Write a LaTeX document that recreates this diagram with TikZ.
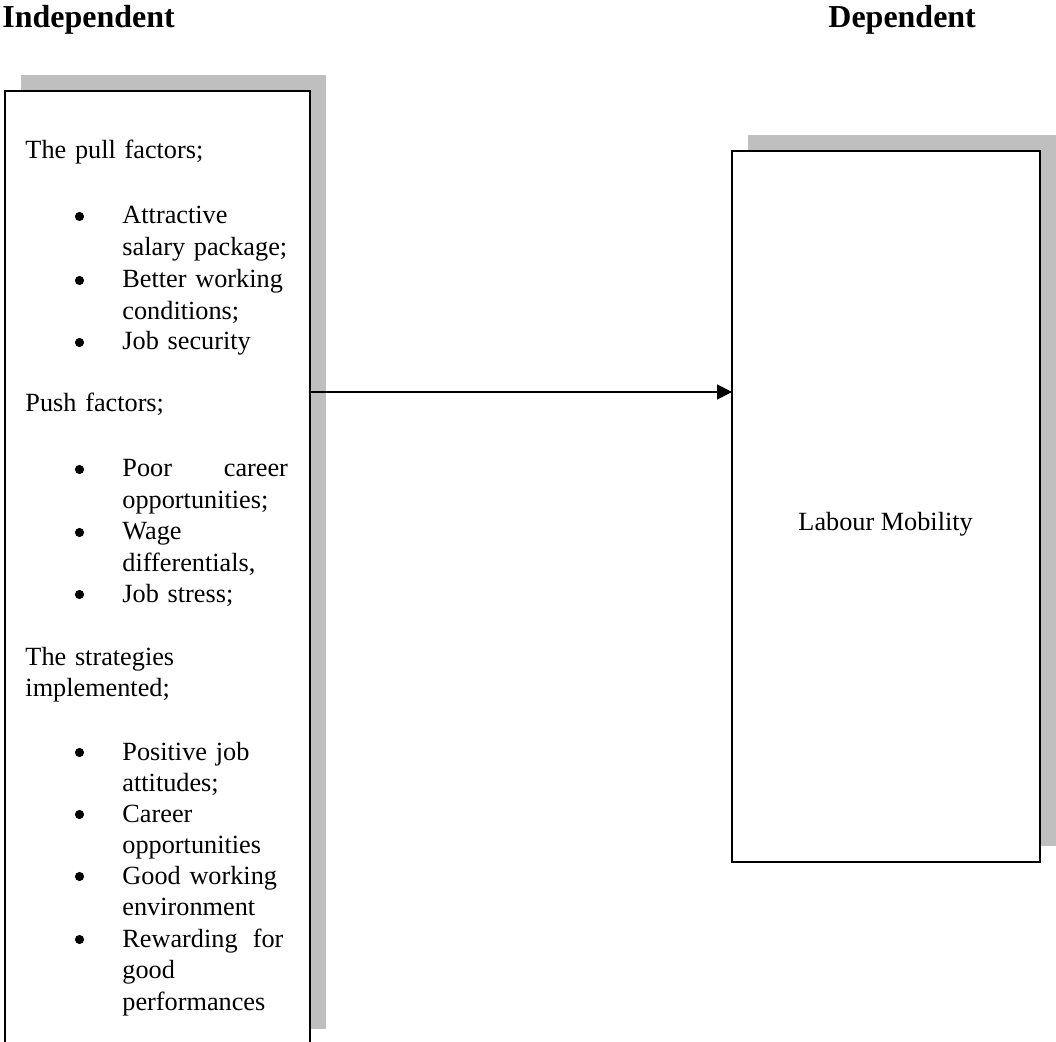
\documentclass[tikz,border=0pt]{standalone}
\usepackage{fontspec}
\setmainfont{Liberation Serif}
\usetikzlibrary{arrows.meta}

\newcommand{\docfont}{\fontsize{11.5}{13.8}\selectfont}

\tikzset{
    frame/.style={draw, line width=0.8pt, fill=white},
    shadow/.style={fill=black!25},
    heading/.style={anchor=base west, font=\fontsize{14}{16}\selectfont\bfseries},
    plain/.style={anchor=base west, text width=120pt, align=left},
    entry/.style={anchor=base west, text width=80pt, align=left},
    dot/.style={circle, fill, minimum size=4pt},
}

\begin{document}
\begin{tikzpicture}[x=0.438pt, y=-0.438pt,
    every node/.style={font=\docfont, inner sep=0pt}]
    % Page area
    \useasboundingbox (0,0) rectangle (1056,1042);
    \clip (0,0) rectangle (1056,1042);

    % Titles
    \node[heading] (indeptitle) at (2,28) {Independent};
    \node[heading] (deptitle) at (828,28) {Dependent};

    % Left box and its shadow
    \fill[shadow] (21,75) rectangle (326,1029);
    \draw[frame] (5,91) rectangle (310,1070);

    % Right box and its shadow
    \fill[shadow] (748,135) rectangle (1080,846);
    \draw[frame] (732,151) rectangle (1040,862);

    % Pull factors
    \node[plain] (pull) at (25,159) {The pull factors;};
    \node[entry] (salary) at (122,224) {Attractive\\salary package;};
    \node[entry] (conditions) at (122,288) {Better working\\conditions;};
    \node[entry] (security) at (122,350) {Job security};

    % Push factors
    \node[plain] (push) at (25,412) {Push factors;};
    \node[entry] (career) at (122,477) {\makebox[72.5pt][l]{Poor\hfill career}\\opportunities;};
    \node[entry] (wage) at (122,540) {Wage\\differentials,};
    \node[entry] (stress) at (122,602) {Job stress;};

    % Strategies
    \node[plain] (strategies) at (25,665) {The strategies\\implemented;};
    \node[entry] (attitudes) at (122,760) {Positive job\\attitudes;};
    \node[entry] (chances) at (122,822) {Career\\opportunities};
    \node[entry] (environment) at (122,884) {Good working\\environment};
    \node[entry] (rewarding) at (122,947) {\makebox[70.5pt][l]{Rewarding\hfill for}\\good\\performances};

    \foreach \y [count=\i] in {224,288,350,477,540,602,760,822,884,947}
        \node[dot] (bullet\i) at (79.5,\y-7.5) {};

    % Dependent variable
    \node[anchor=base west] (mobility) at (798,531) {Labour Mobility};

    % Link
    \coordinate (indepout) at (310,392);
    \coordinate (depin) at (732,392);
    \draw[line width=0.7pt, -{Triangle[length=6.5pt,width=6.5pt]}] (indepout) -- (depin);
\end{tikzpicture}
\end{document}
